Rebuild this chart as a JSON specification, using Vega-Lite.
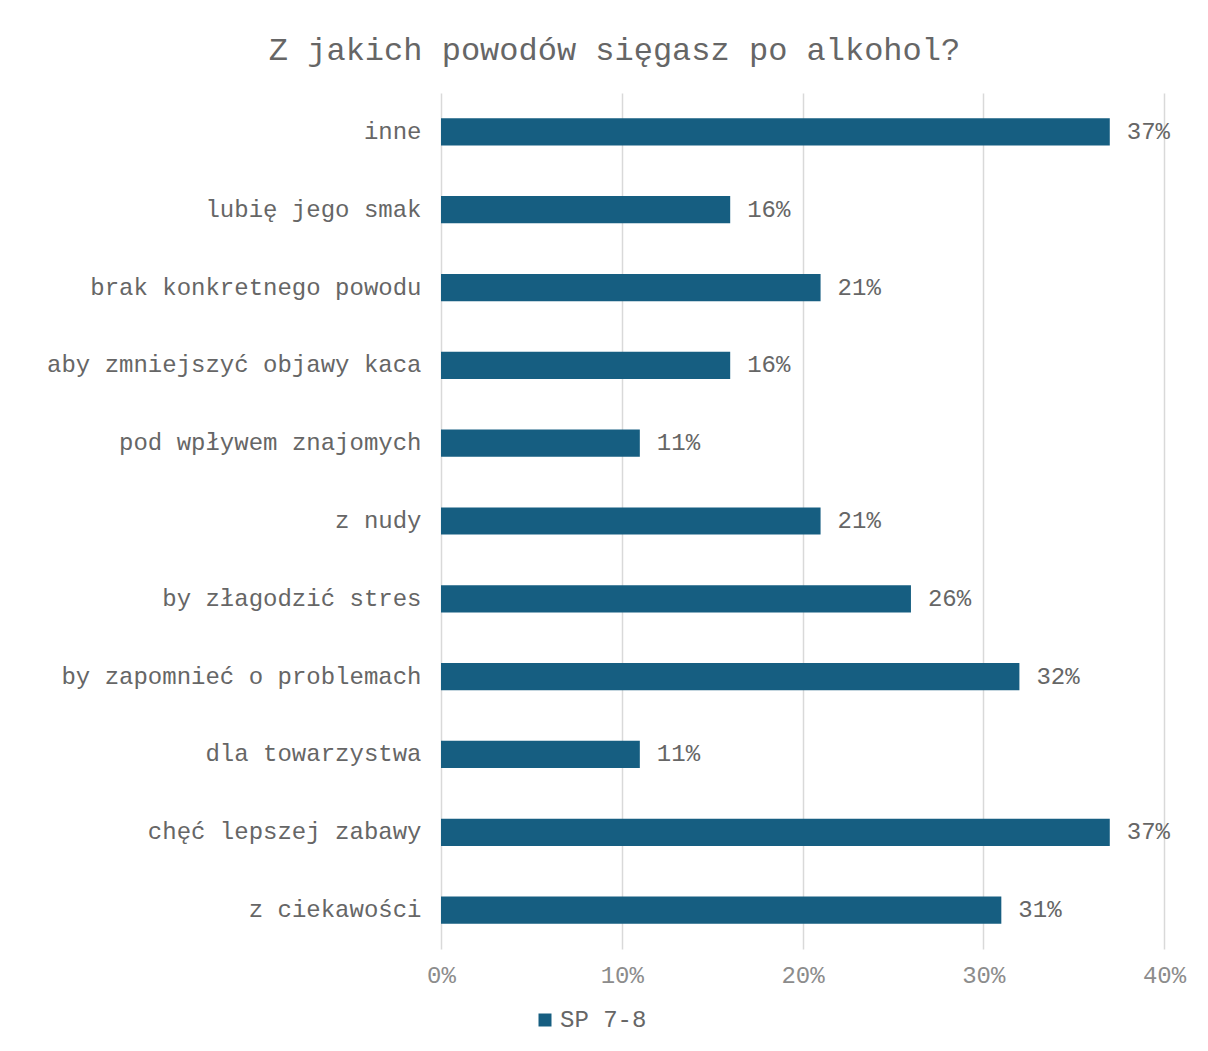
{
  "$schema": "https://vega.github.io/schema/vega-lite/v6.json",
  "autosize": {"type": "none"},
  "padding": {"left": 441, "top": 93, "right": 44, "bottom": 102},
  "width": 723,
  "height": 856,
  "background": "white",
  "title": {
    "text": "Z jakich powodów sięgasz po alkohol?",
    "font": "Liberation Mono",
    "fontSize": 32,
    "fontWeight": "normal",
    "color": "#666666",
    "anchor": "middle",
    "frame": "group",
    "dx": -188,
    "offset": 26
  },
  "data": {
    "values": [
      {"reason": "inne", "value": 0.37, "series": "SP 7-8"},
      {"reason": "lubię jego smak", "value": 0.16, "series": "SP 7-8"},
      {"reason": "brak konkretnego powodu", "value": 0.21, "series": "SP 7-8"},
      {"reason": "aby zmniejszyć objawy kaca", "value": 0.16, "series": "SP 7-8"},
      {"reason": "pod wpływem znajomych", "value": 0.11, "series": "SP 7-8"},
      {"reason": "z nudy", "value": 0.21, "series": "SP 7-8"},
      {"reason": "by złagodzić stres", "value": 0.26, "series": "SP 7-8"},
      {"reason": "by zapomnieć o problemach", "value": 0.32, "series": "SP 7-8"},
      {"reason": "dla towarzystwa", "value": 0.11, "series": "SP 7-8"},
      {"reason": "chęć lepszej zabawy", "value": 0.37, "series": "SP 7-8"},
      {"reason": "z ciekawości", "value": 0.31, "series": "SP 7-8"}
    ]
  },
  "encoding": {
    "y": {
      "field": "reason",
      "type": "nominal",
      "sort": null,
      "scale": {"paddingInner": 0.65, "paddingOuter": 0.325},
      "axis": {
        "title": null,
        "domain": false,
        "ticks": false,
        "grid": false,
        "labelFont": "Liberation Mono",
        "labelFontSize": 24,
        "labelColor": "#666666",
        "labelPadding": 20,
        "labelLimit": 500
      }
    },
    "x": {
      "field": "value",
      "type": "quantitative",
      "scale": {"domain": [0, 0.4], "nice": false},
      "axis": {
        "title": null,
        "format": ".0%",
        "values": [0, 0.1, 0.2, 0.3, 0.4],
        "domain": false,
        "ticks": false,
        "grid": true,
        "gridColor": "#d9d9d9",
        "gridWidth": 1.5,
        "labelFont": "Liberation Mono",
        "labelFontSize": 24,
        "labelColor": "#8c8c8c",
        "labelPadding": 14,
        "labelFlush": false
      }
    }
  },
  "layer": [
    {
      "mark": {"type": "bar"},
      "encoding": {
        "color": {
          "field": "series",
          "type": "nominal",
          "scale": {"range": ["#165E81"]},
          "legend": {
            "title": null,
            "orient": "none",
            "legendX": 92,
            "legendY": 915,
            "symbolType": "square",
            "symbolSize": 169,
            "symbolStrokeWidth": 0,
            "labelFont": "Liberation Mono",
            "labelFontSize": 24,
            "labelColor": "#666666",
            "labelOffset": 3
          }
        }
      }
    },
    {
      "mark": {
        "type": "text",
        "align": "left",
        "dx": 17,
        "font": "Liberation Mono",
        "fontSize": 24,
        "color": "#666666"
      },
      "encoding": {
        "text": {"field": "value", "type": "quantitative", "format": ".0%"}
      }
    }
  ],
  "config": {"view": {"stroke": null}}
}
